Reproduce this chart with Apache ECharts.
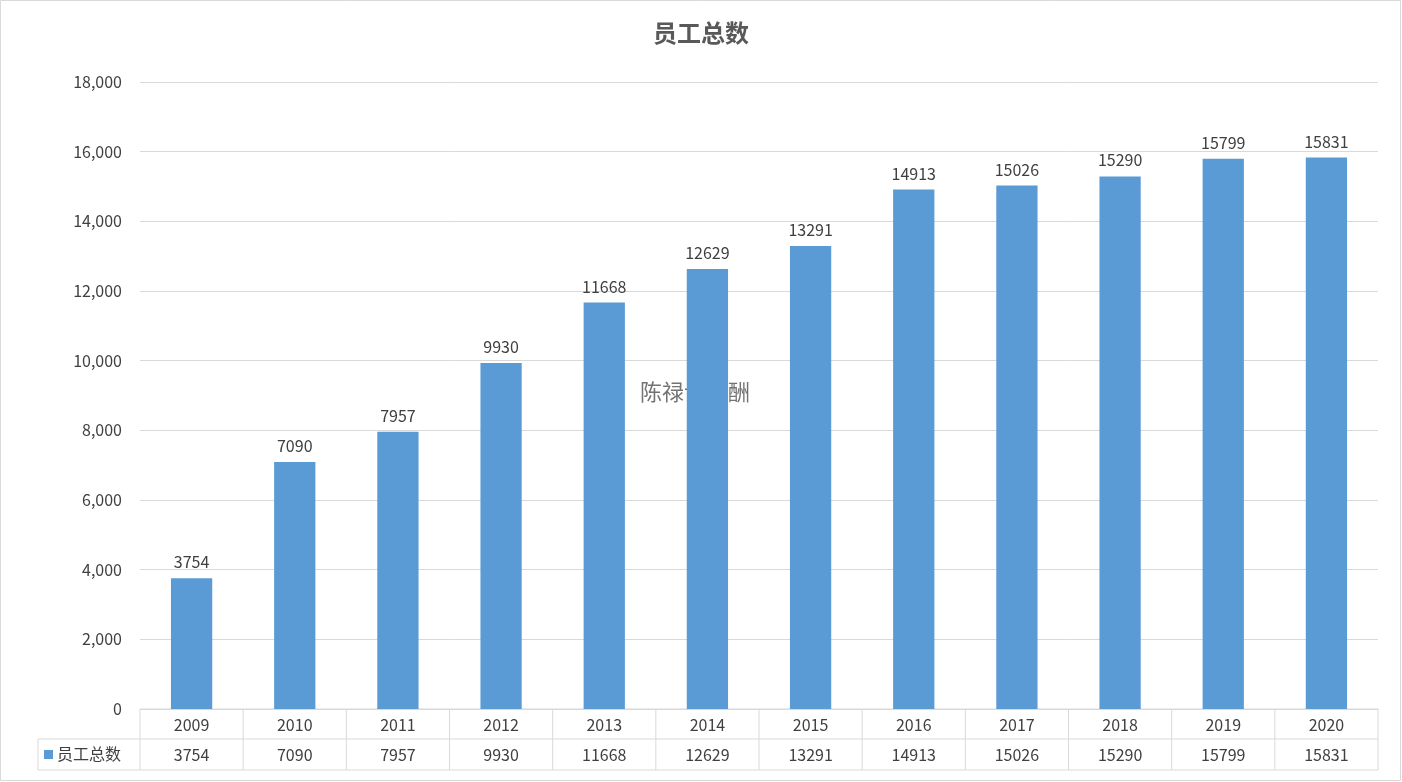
<!DOCTYPE html><html><head><meta charset="utf-8"><script src="https://cdn.jsdelivr.net/npm/echarts@6/dist/echarts.min.js"></script>
<style>html,body{margin:0;padding:0;background:#fff}#c{width:1402px;height:782px}</style></head><body><div id="c"></div><script>
const years=['2009','2010','2011','2012','2013','2014','2015','2016','2017','2018','2019','2020'];
const staff=[3754,7090,7957,9930,11668,12629,13291,14913,15026,15290,15799,15831];
const seriesName='员工总数';
const font='"Noto Sans CJK SC","Noto Sans",sans-serif';
const ch=echarts.init(document.getElementById('c'));
const lc='#d9d9d9';
ch.setOption({
 animation:false,
 title:{text:'员工总数',left:'center',top:16,textStyle:{fontSize:24,fontWeight:'bold',color:'#595959',fontFamily:font}},
 grid:{left:140,right:24,top:82,bottom:73},
 xAxis:[{type:'category',data:years,axisTick:{show:false},axisLine:{lineStyle:{color:lc}},
   axisLabel:{color:'#404040',fontSize:16,margin:8,fontFamily:font}},
  {type:'category',data:staff.map(String),position:'bottom',offset:30,axisTick:{show:false},axisLine:{show:false},
   axisLabel:{color:'#404040',fontSize:16,margin:8,fontFamily:font}}],
 yAxis:{type:'value',min:0,max:18000,interval:2000,axisLine:{show:false},axisTick:{show:false},
  splitLine:{lineStyle:{color:lc}},axisLabel:{color:'#404040',fontSize:16,margin:18,fontFamily:font}},
 series:[{name:seriesName,type:'bar',data:staff,barWidth:'40%',itemStyle:{color:'#5B9BD5'},
  label:{show:true,position:'top',color:'#404040',fontSize:16,distance:8,fontFamily:font}}]
});
const L=38,R=1378,y0=ch.convertToPixel({yAxisIndex:0},0),y1=y0+30,y2=y0+61;
const g=[{type:'rect',shape:{x:0.5,y:0.5,width:1400,height:780},style:{fill:'none',stroke:lc}}];
const hl=(x1,x2,y)=>g.push({type:'line',shape:{x1,y1:y,x2,y2:y},style:{stroke:lc,lineWidth:1}});
const vl=(x,ya,yb)=>g.push({type:'line',shape:{x1:x,y1:ya,x2:x,y2:yb},style:{stroke:lc,lineWidth:1}});
hl(140,R,y0);hl(L,R,y1);hl(L,R,y2);vl(L,y1,y2);vl(140,y0,y2);vl(R,y0,y2);
const step=(R-140)/years.length;
for(let i=1;i<years.length;i++)vl(140+step*i,y0,y2);
g.push({type:'rect',shape:{x:44,y:y1+11,width:9,height:9},style:{fill:'#5B9BD5'}});
g.push({type:'text',x:57,y:y1+15,style:{text:seriesName,fill:'#404040',fontSize:16,fontFamily:font,verticalAlign:'middle'}});
g.push({type:'rect',shape:{x:623,y:365,width:104,height:53},style:{fill:'rgba(255,255,255,0.35)'}});
g.push({type:'text',x:640,y:392,style:{text:'陈禄谈薪酬',fill:'rgba(90,90,90,0.85)',fontSize:22,fontFamily:font,verticalAlign:'middle'}});
ch.setOption({graphic:g});
</script></body></html>
